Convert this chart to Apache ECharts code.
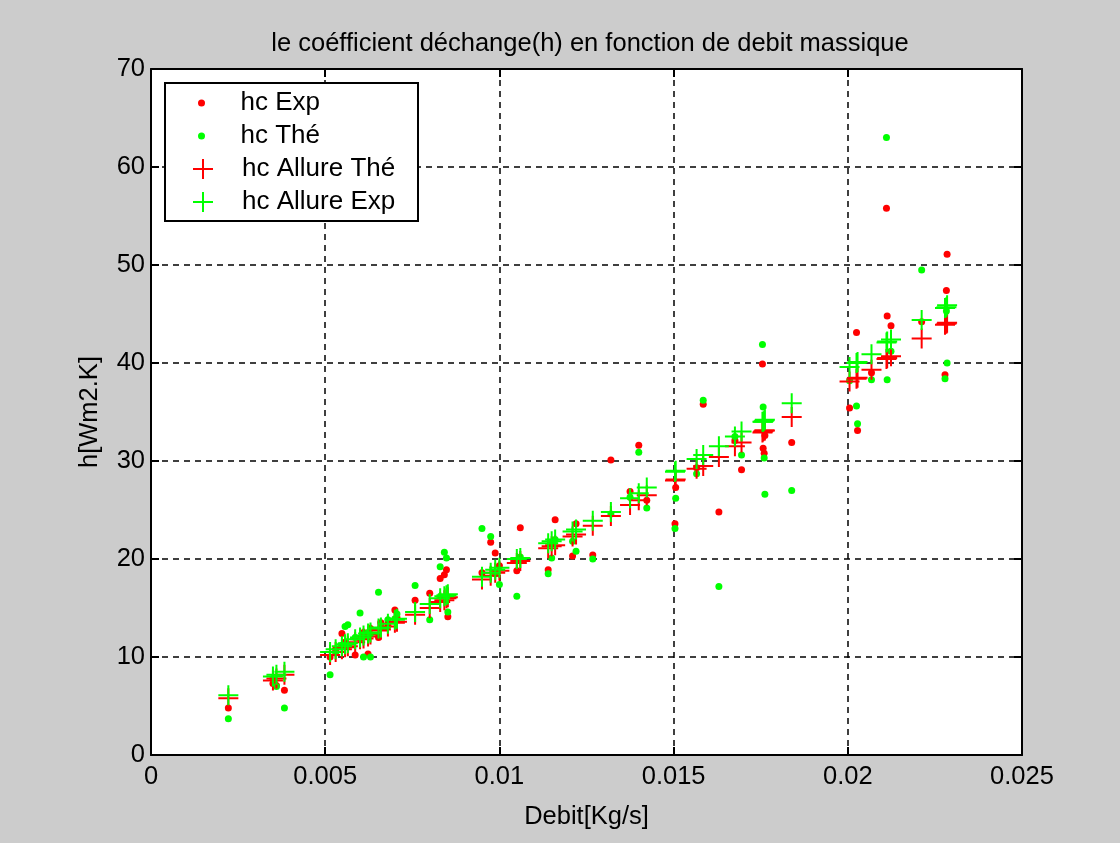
<!DOCTYPE html>
<html>
<head>
<meta charset="utf-8">
<script src="https://cdn.jsdelivr.net/npm/echarts@6/dist/echarts.min.js"></script>
<style>
  html, body { margin: 0; padding: 0; background: #cccccc; }
  #chart { width: 1120px; height: 843px; }
</style>
</head>
<body>
<div id="chart"></div>
<script>
// Débit massique (kg/s)
var debit = [0.00222, 0.00350, 0.00360, 0.00383, 0.00514, 0.00530, 0.00548, 0.00557, 0.00565, 0.00586,
  0.00600, 0.00610, 0.00623, 0.00630, 0.00653, 0.00660, 0.00680, 0.00700, 0.00706, 0.00758,
  0.00800, 0.00830, 0.00842, 0.00848, 0.00852, 0.00950, 0.00975, 0.00988, 0.01000, 0.01050,
  0.01060, 0.01140, 0.01150, 0.01160, 0.01210, 0.01220, 0.01268, 0.01320, 0.01375, 0.01400,
  0.01423, 0.01504, 0.01506, 0.01566, 0.01585, 0.01630, 0.01676, 0.01695, 0.01755, 0.01757,
  0.01760, 0.01762, 0.01839, 0.02005, 0.02025, 0.02028, 0.02068, 0.02111, 0.02113, 0.02124,
  0.02212, 0.02279, 0.02283, 0.02285];
// hc experimental
var hcExp = [4.8, 7.3, 7.1, 6.6, 10.0, 10.8, 12.4, 11.5, 11.2, 10.2,
  11.9, 12.5, 10.3, 12.9, 12.0, 13.5, 13.2, 14.8, 14.0, 15.8,
  16.5, 18.0, 18.4, 18.9, 14.1, 18.6, 21.7, 20.6, 19.3, 18.8,
  23.2, 18.9, 21.6, 24.0, 20.3, 23.6, 20.4, 30.1, 26.9, 31.6,
  26.0, 23.6, 27.3, 29.3, 35.8, 24.8, 32.1, 29.1, 39.9, 31.3,
  30.8, 32.6, 31.9, 35.4, 43.1, 33.1, 39.0, 55.8, 44.8, 43.8,
  44.2, 38.8, 47.4, 51.1];
// hc théorique
var hcThe = [3.7, 7.8, 7.0, 4.8, 8.2, 10.4, 11.2, 13.1, 13.3, 12.0,
  14.5, 10.0, 12.5, 10.0, 16.6, 13.0, 13.8, 13.9, 14.4, 17.3,
  13.8, 19.2, 20.7, 20.1, 14.6, 23.1, 22.3, 18.5, 17.4, 16.2,
  20.2, 18.5, 20.1, 22.0, 21.8, 20.8, 20.0, 24.6, 26.3, 30.9,
  25.2, 23.1, 26.2, 28.7, 36.2, 17.2, 32.5, 30.6, 41.9, 35.5,
  30.3, 26.6, 27.0, 38.2, 35.6, 33.8, 38.3, 63.0, 38.3, 41.2,
  49.5, 38.4, 45.3, 40.0];
// allure théorique (croix rouges)
var allureThe = [5.8, 7.6, 7.8, 8.2, 10.2, 10.5, 10.8, 11.0, 11.1, 11.5,
  11.8, 11.9, 12.1, 12.3, 12.7, 12.8, 13.1, 13.5, 13.6, 14.3,
  15.0, 15.6, 15.8, 16.0, 16.1, 17.9, 18.3, 18.6, 18.8, 19.6,
  19.8, 21.1, 21.3, 21.4, 22.3, 22.5, 23.4, 24.4, 25.5, 26.0,
  26.5, 28.0, 28.1, 29.2, 29.5, 30.4, 31.5, 31.9, 32.9, 33.0,
  33.1, 33.1, 34.5, 38.1, 38.4, 38.5, 39.3, 40.4, 40.5, 40.7,
  42.5, 43.9, 44.0, 44.1];
// allure expérimentale (croix vertes)
var allureExp = [6.1, 8.0, 8.2, 8.5, 10.5, 10.8, 11.1, 11.3, 11.4, 11.8,
  12.0, 12.2, 12.4, 12.5, 12.9, 13.0, 13.4, 13.8, 13.9, 14.6,
  15.4, 16.0, 16.2, 16.3, 16.4, 18.2, 18.6, 18.9, 19.1, 20.0,
  20.1, 21.6, 21.8, 22.0, 22.8, 23.0, 23.9, 24.8, 26.2, 26.7,
  27.3, 28.9, 29.0, 30.2, 30.6, 31.5, 32.5, 33.0, 34.0, 34.0,
  34.1, 34.2, 35.9, 39.6, 40.0, 40.1, 40.9, 42.1, 42.2, 42.4,
  44.4, 45.6, 45.7, 45.9];

var xTicks = [0, 0.005, 0.01, 0.015, 0.02, 0.025];
var xTickLabels = ['0', '0.005', '0.01', '0.015', '0.02', '0.025'];
var yTicks = [0, 10, 20, 30, 40, 50, 60, 70];
var yTickLabels = ['0', '10', '20', '30', '40', '50', '60', '70'];

// Paires (x, y)
function paires(ys) {
  return debit.map(function (x, i) { return [x, ys[i]]; });
}

function labelX(v) {
  var i = xTicks.findIndex(function (t) { return Math.abs(t - v) < 1e-9; });
  return i >= 0 ? xTickLabels[i] : '';
}
function labelY(v) {
  var i = yTicks.indexOf(v);
  return i >= 0 ? yTickLabels[i] : '';
}

var plus = 'path://M9,0h2v9h9v2h-9v9h-2v-9h-9v-2h9z';
var police = 'Liberation Sans';
var tailleTexte = 25.5;

var grille = {
  show: true,
  lineStyle: { color: '#000', type: [6, 5], width: 1.5 }
};

echarts.init(document.getElementById('chart')).setOption({
  backgroundColor: '#cccccc',
  animation: false,
  textStyle: { fontFamily: police },
  title: {
    text: 'le coéfficient déchange(h) en fonction de debit massique',
    left: 585,
    textAlign: 'center',
    top: 26,
    textStyle: { fontFamily: police, fontSize: tailleTexte, fontWeight: 'normal', color: '#000' }
  },
  grid: {
    left: 151, right: 98, top: 69, bottom: 88,
    show: true, backgroundColor: '#ffffff', borderWidth: 0
  },
  legend: [{
    data: ['hc Exp', 'hc Thé'],
    orient: 'vertical',
    left: 193, top: 85,
    itemWidth: 68, itemHeight: 7, itemGap: 7,
    textStyle: { fontFamily: police, fontSize: 26, lineHeight: 22, color: '#000' }
  }, {
    data: ['hc Allure Thé', 'hc Allure Exp'],
    orient: 'vertical',
    left: 188, top: 151,
    itemWidth: 68, itemHeight: 20, itemGap: 7,
    textStyle: { fontFamily: police, fontSize: 26, lineHeight: 22, color: '#000' }
  }],
  graphic: [{
    type: 'rect',
    shape: { x: 165, y: 83, width: 253, height: 138 },
    style: { fill: '#fff', stroke: '#000', lineWidth: 2 },
    z: 3
  }],
  xAxis: [{
    type: 'value', min: 0, max: 0.025, interval: 0.005,
    name: 'Debit[Kg/s]', nameLocation: 'middle', nameGap: 49,
    nameTextStyle: { fontFamily: police, fontSize: tailleTexte, color: '#000' },
    axisLine: { show: true, onZero: false, lineStyle: { color: '#000', width: 2 } },
    axisTick: { show: true, inside: true, length: 8, lineStyle: { color: '#000', width: 2 } },
    axisLabel: { formatter: labelX, fontFamily: police, fontSize: tailleTexte, color: '#000', margin: 9 },
    splitLine: grille
  }, {
    type: 'value', position: 'top', min: 0, max: 0.025, interval: 0.005,
    axisLine: { show: true, onZero: false, lineStyle: { color: '#000', width: 2 } },
    axisTick: { show: true, inside: true, length: 8, lineStyle: { color: '#000', width: 2 } },
    axisLabel: { show: false },
    splitLine: { show: false }
  }],
  yAxis: [{
    type: 'value', min: 0, max: 70, interval: 10,
    name: 'h[Wm2.K]', nameLocation: 'middle', nameGap: 48, nameRotate: 90,
    nameTextStyle: { fontFamily: police, fontSize: tailleTexte, color: '#000' },
    axisLine: { show: true, onZero: false, lineStyle: { color: '#000', width: 2 } },
    axisTick: { show: true, inside: true, length: 8, lineStyle: { color: '#000', width: 2 } },
    axisLabel: { formatter: labelY, fontFamily: police, fontSize: tailleTexte, color: '#000', margin: 6 },
    splitLine: grille
  }, {
    type: 'value', position: 'right', min: 0, max: 70, interval: 10,
    axisLine: { show: true, onZero: false, lineStyle: { color: '#000', width: 2 } },
    axisTick: { show: true, inside: true, length: 8, lineStyle: { color: '#000', width: 2 } },
    axisLabel: { show: false },
    splitLine: { show: false }
  }],
  series: [{
    name: 'hc Exp', type: 'scatter', symbol: 'circle', symbolSize: 7,
    itemStyle: { color: '#ff0000', opacity: 1 },
    data: paires(hcExp)
  }, {
    name: 'hc Thé', type: 'scatter', symbol: 'circle', symbolSize: 7,
    itemStyle: { color: '#00ff00', opacity: 1 },
    data: paires(hcThe)
  }, {
    name: 'hc Allure Thé', type: 'scatter', symbol: plus, symbolSize: 20,
    itemStyle: { color: '#ff0000', opacity: 1 },
    data: paires(allureThe)
  }, {
    name: 'hc Allure Exp', type: 'scatter', symbol: plus, symbolSize: 20,
    itemStyle: { color: '#00ff00', opacity: 1 },
    data: paires(allureExp)
  }]
});
</script>
</body>
</html>
